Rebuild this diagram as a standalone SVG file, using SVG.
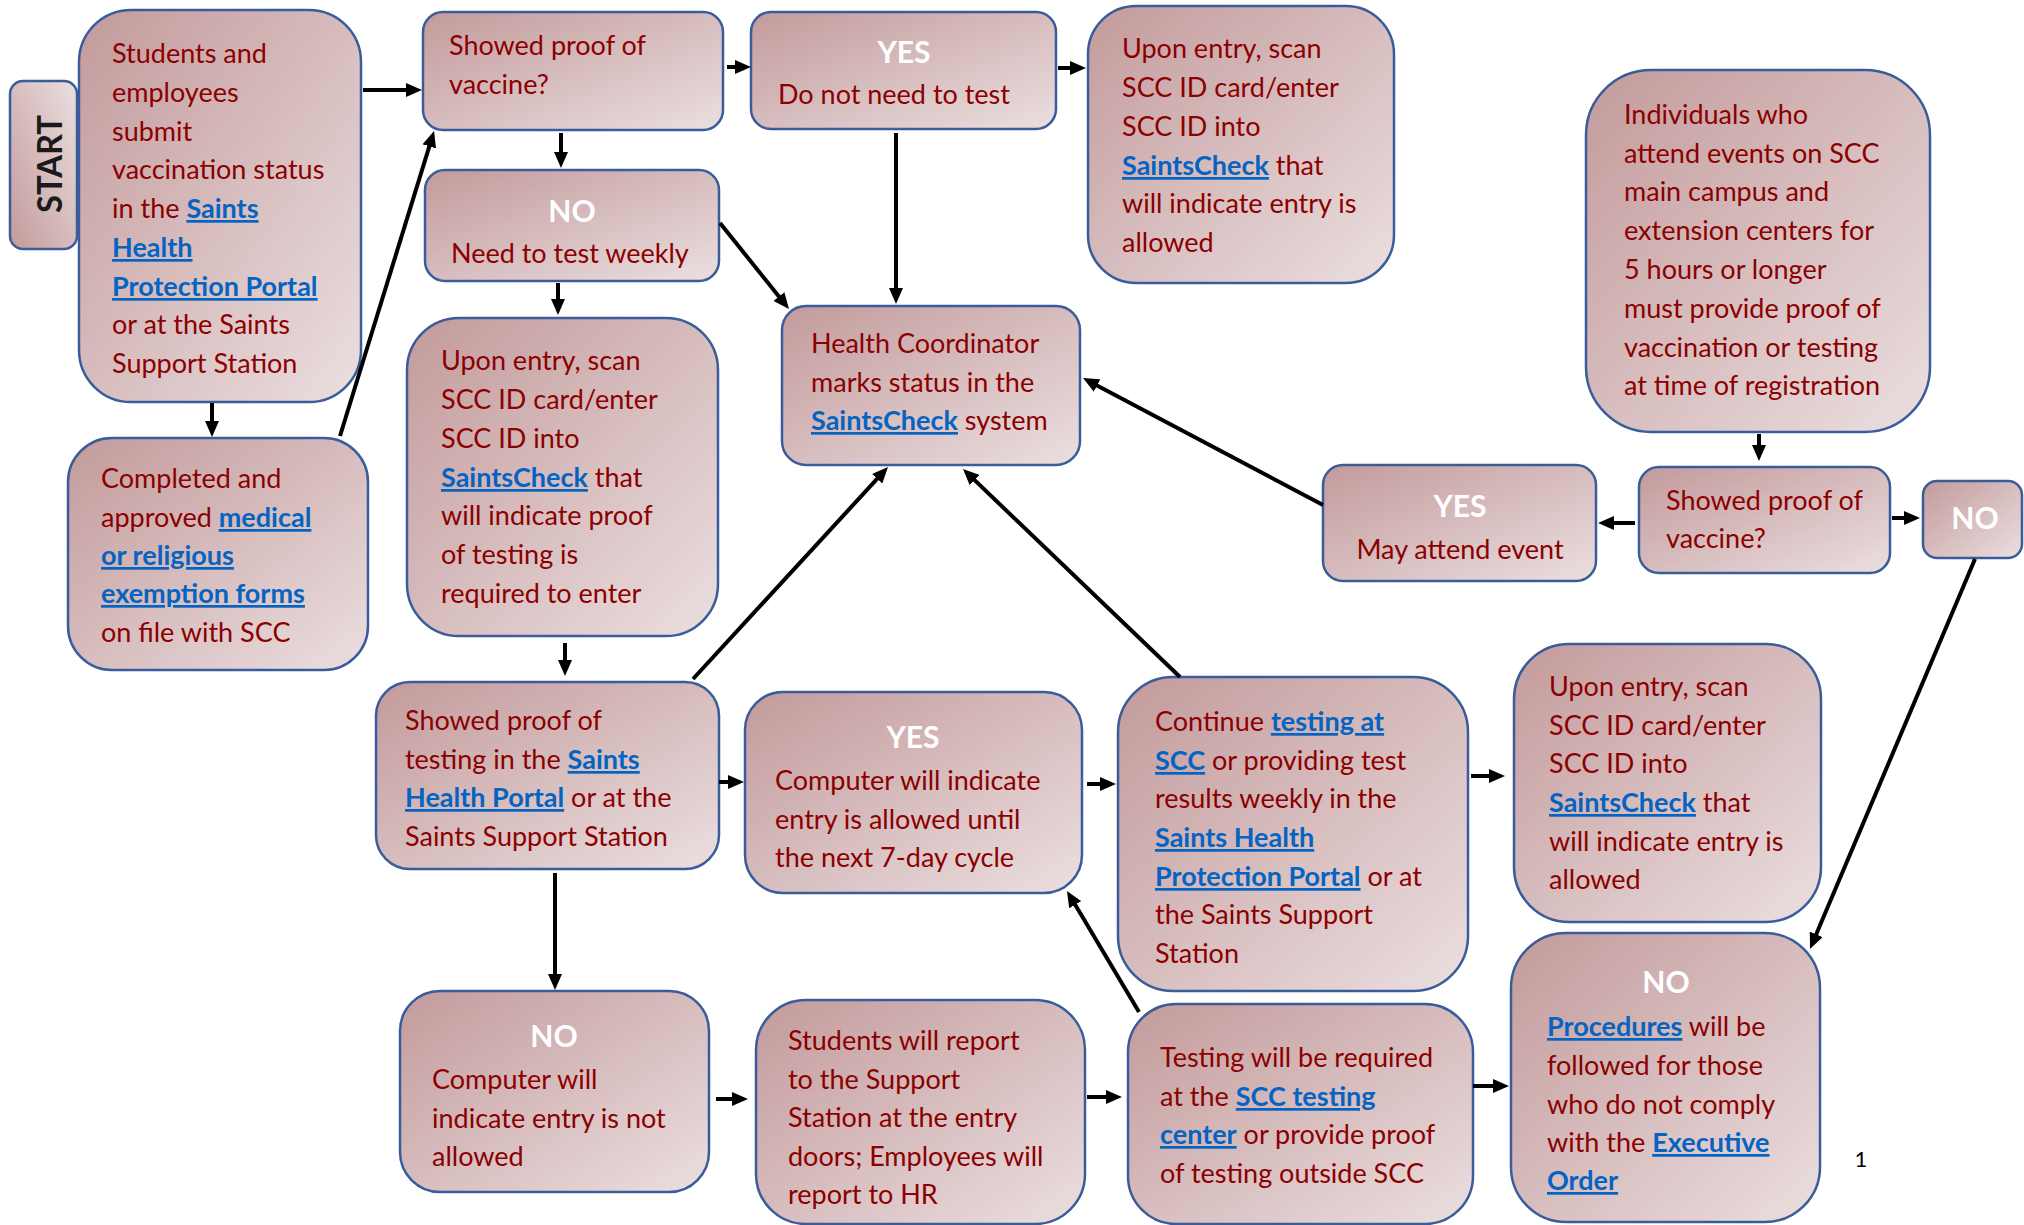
<svg xmlns="http://www.w3.org/2000/svg" width="2024" height="1225" viewBox="0 0 2024 1225">
<defs>
<linearGradient id="g" x1="0" y1="0" x2="1" y2="1"><stop offset="0" stop-color="#C39A9B"/><stop offset="1" stop-color="#EBDFE0"/></linearGradient>
<linearGradient id="gs" x1="0" y1="1" x2="1" y2="0"><stop offset="0" stop-color="#C39A9B"/><stop offset="1" stop-color="#EBDFE0"/></linearGradient>
<marker id="ah" markerUnits="userSpaceOnUse" markerWidth="16" markerHeight="14" refX="6" refY="7" orient="auto"><path d="M0,0 L16,7 L0,14 Z" fill="#000"/></marker>
<style>
.box{fill:url(#g);stroke:#3A5C9B;stroke-width:2.5}
.t{font-family:Lato,"Liberation Sans",sans-serif;font-size:27px;fill:#8B0000}
.l{font-weight:bold;fill:#0563C1;text-decoration:underline}
.h{font-family:Lato,"Liberation Sans",sans-serif;font-size:30px;font-weight:bold;fill:#FFFFFF;text-anchor:middle}
.c line{stroke:#000;stroke-width:4;marker-end:url(#ah)}
</style>
</defs>
<rect width="2024" height="1225" fill="#FFFFFF"/>

<g id="start">
<rect x="10" y="81" width="67" height="168" rx="13" fill="url(#gs)" stroke="#3A5C9B" stroke-width="2.5"/>
<text transform="translate(62,164) rotate(-90)" text-anchor="middle" font-family="Lato,'Liberation Sans',sans-serif" font-size="34" font-weight="bold" fill="#1A1A1A" textLength="98" lengthAdjust="spacingAndGlyphs">START</text>
</g>

<g id="submit">
<rect class="box" x="79" y="10" width="282" height="392" rx="52"/>
<text class="t" x="112"><tspan x="112" y="63">Students and</tspan><tspan x="112" y="102">employees</tspan><tspan x="112" y="141">submit</tspan><tspan x="112" y="179">vaccination status</tspan><tspan x="112" y="218">in the <tspan class="l">Saints</tspan></tspan><tspan x="112" y="257" class="l">Health</tspan><tspan x="112" y="296" class="l">Protection Portal</tspan><tspan x="112" y="334">or at the Saints</tspan><tspan x="112" y="373">Support Station</tspan></text>
</g>

<g id="proof1">
<rect class="box" x="423" y="12" width="300" height="118" rx="20"/>
<text class="t"><tspan x="449" y="55">Showed proof of</tspan><tspan x="449" y="94">vaccine?</tspan></text>
</g>

<g id="yes1">
<rect class="box" x="751" y="12" width="305" height="117" rx="20"/>
<text class="h" x="904" y="63">YES</text>
<text class="t" x="778" y="104">Do not need to test</text>
</g>

<g id="entry1">
<rect class="box" x="1088" y="6" width="306" height="277" rx="48"/>
<text class="t"><tspan x="1122" y="58">Upon entry, scan</tspan><tspan x="1122" y="97">SCC ID card/enter</tspan><tspan x="1122" y="136">SCC ID into</tspan><tspan x="1122" y="175"><tspan class="l">SaintsCheck</tspan> that</tspan><tspan x="1122" y="213">will indicate entry is</tspan><tspan x="1122" y="252">allowed</tspan></text>
</g>

<g id="no1">
<rect class="box" x="425" y="170" width="294" height="111" rx="20"/>
<text class="h" x="572" y="222">NO</text>
<text class="t" x="451" y="263">Need to test weekly</text>
</g>

<g id="entry2">
<rect class="box" x="407" y="318" width="311" height="318" rx="52"/>
<text class="t"><tspan x="441" y="370">Upon entry, scan</tspan><tspan x="441" y="409">SCC ID card/enter</tspan><tspan x="441" y="448">SCC ID into</tspan><tspan x="441" y="487"><tspan class="l">SaintsCheck</tspan> that</tspan><tspan x="441" y="525">will indicate proof</tspan><tspan x="441" y="564">of testing is</tspan><tspan x="441" y="603">required to enter</tspan></text>
</g>

<g id="coord">
<rect class="box" x="782" y="306" width="298" height="159" rx="24"/>
<text class="t"><tspan x="811" y="353">Health Coordinator</tspan><tspan x="811" y="392">marks status in the</tspan><tspan x="811" y="430"><tspan class="l">SaintsCheck</tspan> system</tspan></text>
</g>

<g id="exempt">
<rect class="box" x="68" y="438" width="300" height="232" rx="44"/>
<text class="t"><tspan x="101" y="488">Completed and</tspan><tspan x="101" y="527">approved <tspan class="l">medical</tspan></tspan><tspan x="101" y="565" class="l">or religious</tspan><tspan x="101" y="603" class="l">exemption forms</tspan><tspan x="101" y="642">on file with SCC</tspan></text>
</g>

<g id="events">
<rect class="box" x="1586" y="70" width="344" height="362" rx="65"/>
<text class="t"><tspan x="1624" y="124">Individuals who</tspan><tspan x="1624" y="163">attend events on SCC</tspan><tspan x="1624" y="201">main campus and</tspan><tspan x="1624" y="240">extension centers for</tspan><tspan x="1624" y="279">5 hours or longer</tspan><tspan x="1624" y="318">must provide proof of</tspan><tspan x="1624" y="357">vaccination or testing</tspan><tspan x="1624" y="395">at time of registration</tspan></text>
</g>

<g id="yes2">
<rect class="box" x="1323" y="465" width="273" height="116" rx="20"/>
<text class="h" x="1460" y="517">YES</text>
<text class="t" x="1460" y="559" text-anchor="middle">May attend event</text>
</g>

<g id="proof2">
<rect class="box" x="1639" y="467" width="251" height="106" rx="20"/>
<text class="t"><tspan x="1666" y="510">Showed proof of</tspan><tspan x="1666" y="548">vaccine?</tspan></text>
</g>

<g id="no2">
<rect class="box" x="1923" y="481" width="99" height="77" rx="14"/>
<text class="h" x="1975" y="529">NO</text>
</g>

<g id="proof3">
<rect class="box" x="376" y="682" width="343" height="187" rx="34"/>
<text class="t"><tspan x="405" y="730">Showed proof of</tspan><tspan x="405" y="769">testing in the <tspan class="l">Saints</tspan></tspan><tspan x="405" y="807"><tspan class="l">Health Portal</tspan> or at the</tspan><tspan x="405" y="846">Saints Support Station</tspan></text>
</g>

<g id="yes3">
<rect class="box" x="745" y="692" width="337" height="201" rx="38"/>
<text class="h" x="913" y="748">YES</text>
<text class="t"><tspan x="775" y="790">Computer will indicate</tspan><tspan x="775" y="829">entry is allowed until</tspan><tspan x="775" y="867">the next 7-day cycle</tspan></text>
</g>

<g id="continue">
<rect class="box" x="1118" y="677" width="350" height="314" rx="55"/>
<text class="t"><tspan x="1155" y="731">Continue <tspan class="l">testing at</tspan></tspan><tspan x="1155" y="770"><tspan class="l">SCC</tspan> or providing test</tspan><tspan x="1155" y="808">results weekly in the</tspan><tspan x="1155" y="847" class="l">Saints Health</tspan><tspan x="1155" y="886"><tspan class="l">Protection Portal</tspan> or at</tspan><tspan x="1155" y="924">the Saints Support</tspan><tspan x="1155" y="963">Station</tspan></text>
</g>

<g id="entry3">
<rect class="box" x="1514" y="644" width="307" height="278" rx="55"/>
<text class="t"><tspan x="1549" y="696">Upon entry, scan</tspan><tspan x="1549" y="735">SCC ID card/enter</tspan><tspan x="1549" y="773">SCC ID into</tspan><tspan x="1549" y="812"><tspan class="l">SaintsCheck</tspan> that</tspan><tspan x="1549" y="851">will indicate entry is</tspan><tspan x="1549" y="889">allowed</tspan></text>
</g>

<g id="no3">
<rect class="box" x="400" y="991" width="309" height="201" rx="40"/>
<text class="h" x="554" y="1047">NO</text>
<text class="t"><tspan x="432" y="1089">Computer will</tspan><tspan x="432" y="1128">indicate entry is not</tspan><tspan x="432" y="1166">allowed</tspan></text>
</g>

<g id="report">
<rect class="box" x="756" y="1000" width="329" height="224" rx="50"/>
<text class="t"><tspan x="788" y="1050">Students will report</tspan><tspan x="788" y="1089">to the Support</tspan><tspan x="788" y="1127">Station at the entry</tspan><tspan x="788" y="1166">doors; Employees will</tspan><tspan x="788" y="1204">report to HR</tspan></text>
</g>

<g id="required">
<rect class="box" x="1128" y="1004" width="345" height="220" rx="48"/>
<text class="t"><tspan x="1160" y="1067">Testing will be required</tspan><tspan x="1160" y="1106">at the <tspan class="l">SCC testing</tspan></tspan><tspan x="1160" y="1144"><tspan class="l">center</tspan> or provide proof</tspan><tspan x="1160" y="1183">of testing outside SCC</tspan></text>
</g>

<g id="no4">
<rect class="box" x="1511" y="933" width="309" height="289" rx="55"/>
<text class="h" x="1666" y="993">NO</text>
<text class="t"><tspan x="1547" y="1036"><tspan class="l">Procedures</tspan> will be</tspan><tspan x="1547" y="1075">followed for those</tspan><tspan x="1547" y="1114">who do not comply</tspan><tspan x="1547" y="1152">with the <tspan class="l">Executive</tspan></tspan><tspan x="1547" y="1190" class="l">Order</tspan></text>
</g>

<text x="1861" y="1167" text-anchor="middle" font-family="Lato,'Liberation Sans',sans-serif" font-size="22" fill="#000">1</text>

<g id="connectors" class="c">
<line x1="363" y1="90" x2="412" y2="90"/>
<line x1="727" y1="67" x2="741" y2="67"/>
<line x1="1058" y1="68" x2="1076" y2="68"/>
<line x1="561" y1="133" x2="561" y2="158"/>
<line x1="896" y1="133" x2="896" y2="294"/>
<line x1="720" y1="223" x2="782.7" y2="301.2"/>
<line x1="558" y1="283" x2="558" y2="305"/>
<line x1="212" y1="403" x2="212" y2="427"/>
<line x1="340" y1="436" x2="431.1" y2="140.6"/>
<line x1="565" y1="643" x2="565" y2="666"/>
<line x1="693" y1="679" x2="881.2" y2="474.4"/>
<line x1="719" y1="782" x2="734" y2="782"/>
<line x1="555" y1="873" x2="555" y2="980"/>
<line x1="1087" y1="784" x2="1106" y2="784"/>
<line x1="1180" y1="677" x2="970.2" y2="475.9"/>
<line x1="1471" y1="776" x2="1495" y2="776"/>
<line x1="716" y1="1099" x2="738" y2="1099"/>
<line x1="1087" y1="1097" x2="1112" y2="1097"/>
<line x1="1139" y1="1012" x2="1072.1" y2="899.6"/>
<line x1="1473" y1="1086" x2="1499" y2="1086"/>
<line x1="1759" y1="434" x2="1759" y2="451"/>
<line x1="1635" y1="523" x2="1608" y2="523"/>
<line x1="1892" y1="518" x2="1910" y2="518"/>
<line x1="1323" y1="505" x2="1091.8" y2="382.7"/>
<line x1="1975" y1="559" x2="1813.9" y2="939.8"/>
</g>
</svg>
